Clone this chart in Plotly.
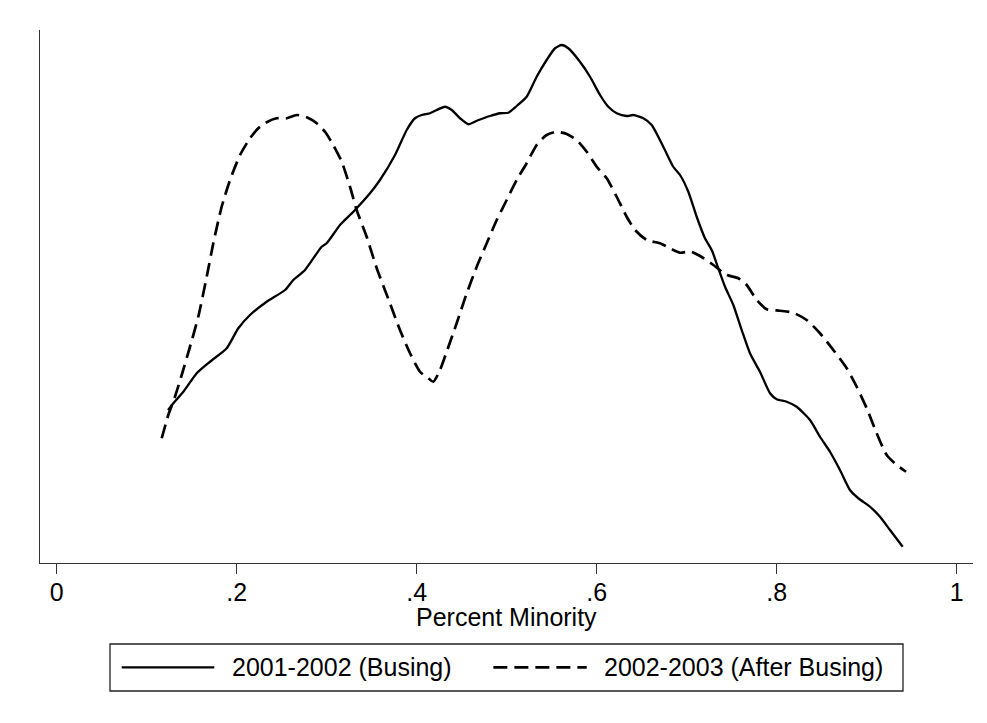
import plotly.graph_objects as go

# Kernel density of percent minority, 2001-2002 (Busing)
x_busing = [0.1237, 0.1296, 0.1407, 0.1556, 0.1703, 0.1889, 0.2018, 0.2148, 0.2333, 0.2537,
            0.2629, 0.2759, 0.2944, 0.3000, 0.3148, 0.3296, 0.3481, 0.3592, 0.3759, 0.3889,
            0.3981, 0.4056, 0.4148, 0.4222, 0.4314, 0.4389, 0.4481, 0.4573, 0.4667, 0.4814,
            0.4926, 0.5018, 0.5111, 0.5222, 0.5333, 0.5444, 0.5537, 0.5611, 0.5684, 0.5814,
            0.5926, 0.6037, 0.6129, 0.6222, 0.6333, 0.6407, 0.6518, 0.6611, 0.6740, 0.6851,
            0.6926, 0.7018, 0.7111, 0.7203, 0.7278, 0.7351, 0.7426, 0.7518, 0.7611, 0.7703,
            0.7814, 0.7926, 0.8000, 0.8111, 0.8222, 0.8370, 0.8481, 0.8592, 0.8703, 0.8814,
            0.8907, 0.9037, 0.9148, 0.9259, 0.9400]
y_busing = [1.112, 1.139, 1.185, 1.259, 1.305, 1.359, 1.439, 1.492, 1.545, 1.592,
            1.632, 1.672, 1.765, 1.779, 1.852, 1.905, 1.979, 2.032, 2.132, 2.232,
            2.279, 2.292, 2.299, 2.312, 2.325, 2.312, 2.279, 2.255, 2.269, 2.288,
            2.299, 2.301, 2.328, 2.365, 2.445, 2.512, 2.559, 2.572, 2.559, 2.505,
            2.445, 2.372, 2.325, 2.299, 2.288, 2.292, 2.279, 2.252, 2.165, 2.085,
            2.052, 1.985, 1.885, 1.799, 1.752, 1.679, 1.605, 1.532, 1.432, 1.339,
            1.265, 1.179, 1.155, 1.145, 1.125, 1.072, 1.005, 0.945, 0.872, 0.792,
            0.759, 0.725, 0.685, 0.632, 0.565]

# Kernel density of percent minority, 2002-2003 (After Busing)
x_after = [0.1167, 0.1240, 0.1314, 0.1389, 0.1481, 0.1573, 0.1667, 0.1740, 0.1833, 0.1926,
           0.2037, 0.2148, 0.2240, 0.2333, 0.2444, 0.2556, 0.2667, 0.2778, 0.2889, 0.2981,
           0.3073, 0.3167, 0.3259, 0.3333, 0.3444, 0.3556, 0.3703, 0.3814, 0.3926, 0.4037,
           0.4129, 0.4184, 0.4259, 0.4333, 0.4444, 0.4556, 0.4667, 0.4778, 0.4889, 0.5000,
           0.5111, 0.5222, 0.5333, 0.5444, 0.5556, 0.5667, 0.5778, 0.5889, 0.6000, 0.6111,
           0.6222, 0.6333, 0.6426, 0.6556, 0.6703, 0.6814, 0.6926, 0.7037, 0.7148, 0.7296,
           0.7444, 0.7573, 0.7667, 0.7778, 0.7889, 0.8037, 0.8184, 0.8333, 0.8481, 0.8629,
           0.8778, 0.8889, 0.9000, 0.9111, 0.9222, 0.9333, 0.9437]
y_after = [0.999, 1.092, 1.165, 1.252, 1.365, 1.485, 1.645, 1.779, 1.925, 2.032,
           2.132, 2.199, 2.239, 2.263, 2.279, 2.279, 2.292, 2.283, 2.259, 2.225,
           2.172, 2.105, 2.005, 1.912, 1.805, 1.679, 1.539, 1.432, 1.339, 1.265,
           1.239, 1.225, 1.272, 1.345, 1.459, 1.579, 1.685, 1.779, 1.872, 1.952,
           2.032, 2.099, 2.172, 2.212, 2.225, 2.216, 2.192, 2.145, 2.085, 2.039,
           1.965, 1.885, 1.832, 1.792, 1.779, 1.759, 1.741, 1.746, 1.728, 1.692,
           1.652, 1.639, 1.612, 1.552, 1.515, 1.509, 1.501, 1.472, 1.419, 1.352,
           1.279, 1.205, 1.119, 1.019, 0.932, 0.892, 0.865]

x_ticks = [0, 0.2, 0.4, 0.6, 0.8, 1]
x_tick_labels = ["0", ".2", ".4", ".6", ".8", "1"]
series_names = ["2001-2002 (Busing)", "2002-2003 (After Busing)"]
x_title = "Percent Minority"

FONT = "Liberation Sans, Arial, Helvetica, sans-serif"
DASH = "14px,7px"

fig = go.Figure()
fig.add_trace(go.Scatter(x=x_busing, y=y_busing, mode="lines", name=series_names[0],
                         line=dict(color="black", width=2.3, shape="spline", smoothing=0.6),
                         showlegend=False))
fig.add_trace(go.Scatter(x=x_after, y=y_after, mode="lines", name=series_names[1],
                         line=dict(color="black", width=2.7, dash=DASH,
                                   shape="spline", smoothing=0.6),
                         showlegend=False))

# manual Stata-style legend (paper coordinates relative to plot area)
shapes = [
    dict(type="rect", xref="paper", yref="paper", x0=0.07503, x1=0.92497, y0=-0.24015, y1=-0.15197,
         line=dict(color="#222", width=1.3), fillcolor="white", layer="above"),
    dict(type="line", xref="paper", yref="paper", x0=0.0876, x1=0.1868, y0=-0.1957, y1=-0.1957,
         line=dict(color="black", width=2.3)),
    dict(type="line", xref="paper", yref="paper", x0=0.4859, x1=0.5860, y0=-0.1957, y1=-0.1957,
         line=dict(color="black", width=2.7, dash=DASH)),
]
annotations = [
    dict(xref="paper", yref="paper", x=0.5, y=-0.1013, xanchor="center", yanchor="middle",
         text=x_title, showarrow=False, font=dict(family=FONT, size=25, color="black")),
    dict(xref="paper", yref="paper", x=0.2036, y=-0.1957, xanchor="left", yanchor="middle",
         text=series_names[0], showarrow=False, font=dict(family=FONT, size=25, color="black")),
    dict(xref="paper", yref="paper", x=0.6020, y=-0.1957, xanchor="left", yanchor="middle",
         text=series_names[1], showarrow=False, font=dict(family=FONT, size=25, color="black")),
]

# the page body adds an 8px offset, so the figure is 8px smaller and margins are shifted
fig.update_layout(
    width=979, height=715,
    margin=dict(l=32, r=14, t=22, b=160),
    paper_bgcolor="white", plot_bgcolor="white",
    font=dict(family=FONT, size=25, color="black"),
    shapes=shapes, annotations=annotations,
    xaxis=dict(range=[-0.01856, 1.01811], tickvals=x_ticks, ticktext=x_tick_labels,
               showline=True, linecolor="#333", linewidth=1.2, mirror=False,
               ticks="outside", ticklen=10, tickwidth=1.2, tickcolor="#333",
               ticklabelstandoff=-3,
               showgrid=False, zeroline=False,
               tickfont=dict(family=FONT, size=25, color="black")),
    yaxis=dict(range=[0.5, 2.632], showline=True, linecolor="#333", linewidth=1.2,
               showticklabels=False, ticks="", showgrid=False, zeroline=False),
)

fig.write_html("out.html")
